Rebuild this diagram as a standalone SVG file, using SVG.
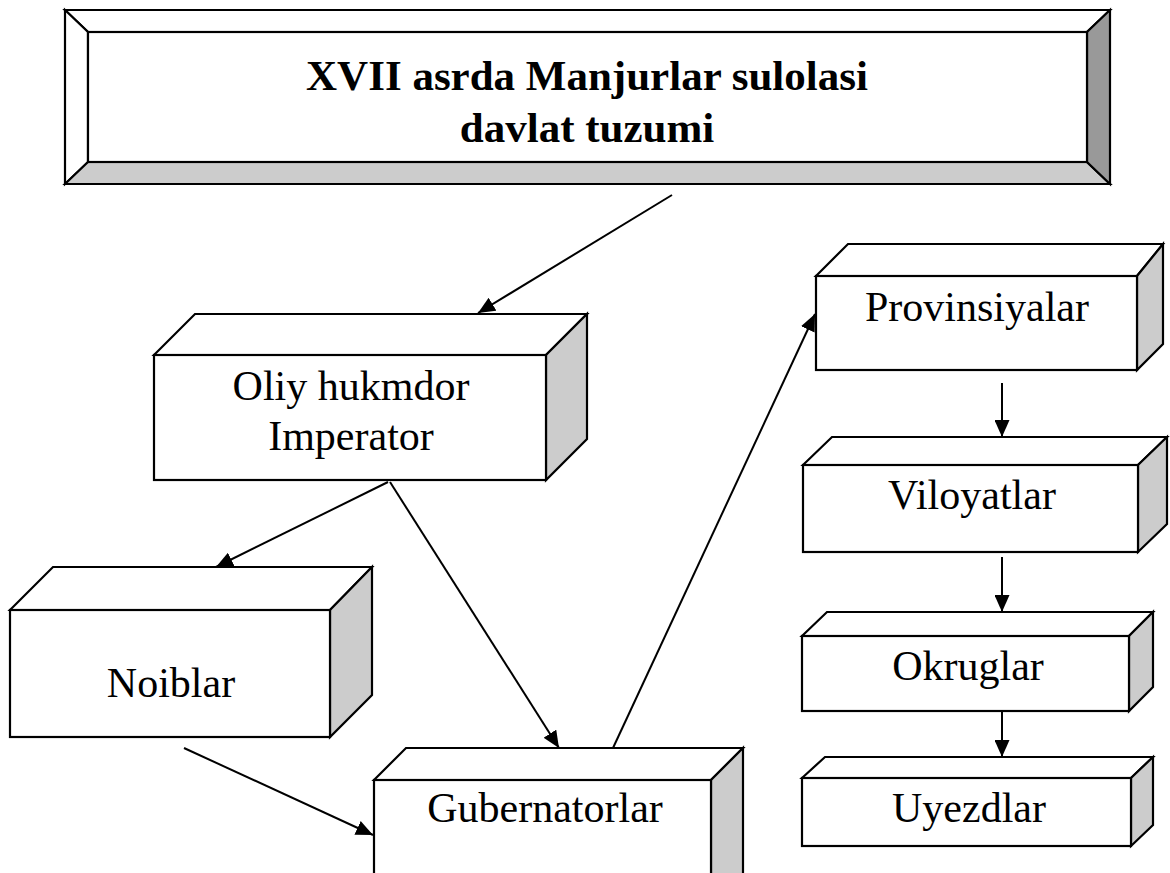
<svg xmlns="http://www.w3.org/2000/svg" width="1170" height="873" viewBox="0 0 1170 873">
<style>
.f{fill:#fff;stroke:#000;stroke-width:2.2;stroke-linejoin:miter}
.s{fill:#ccc;stroke:#000;stroke-width:2.2}
.d{fill:#999;stroke:#000;stroke-width:2.2}
.t{font-family:"Liberation Serif","Times New Roman",serif;font-size:42px;fill:#000;text-anchor:middle}
.b{font-weight:bold;font-size:43px}
.c{stroke:#000;stroke-width:2;fill:none}
</style>
<defs>
<marker id="ah" markerUnits="userSpaceOnUse" markerWidth="19" markerHeight="15" refX="17" refY="7.5" orient="auto">
<path d="M0,0 L17,7.5 L0,15 Z" fill="#000"/>
</marker>
</defs>
<rect width="1170" height="873" fill="#fff"/>
<g id="title">
<polygon class="f" points="65,10 1110,10 1087,32 88,32"/>
<polygon class="f" points="65,10 88,32 88,162 65,184"/>
<polygon class="s" points="65,184 88,162 1087,162 1110,184"/>
<polygon class="d" points="1110,10 1110,184 1087,162 1087,32"/>
<rect class="f" x="88" y="32" width="999" height="130"/>
<text class="t b" x="587" y="90">XVII asrda Manjurlar sulolasi</text>
<text class="t b" x="587" y="142">davlat tuzumi</text>
</g>
<g id="oliy">
<polygon class="f" points="154,355 195,314 587,314 546,355"/>
<polygon class="s" points="546,355 587,314 587,439 546,480"/>
<rect class="f" x="154" y="355" width="392" height="125"/>
<text class="t" x="351" y="400">Oliy hukmdor</text>
<text class="t" x="351" y="450">Imperator</text>
</g>
<g id="noiblar">
<polygon class="f" points="10,610 53,567 372,567 330,610"/>
<polygon class="s" points="330,610 372,567 372,695 330,737"/>
<rect class="f" x="10" y="610" width="320" height="127"/>
<text class="t" x="171" y="697">Noiblar</text>
</g>
<g id="gubernatorlar">
<polygon class="f" points="374,780 406,748 743,748 711,780"/>
<polygon class="s" points="711,780 743,748 743,900 711,932"/>
<rect class="f" x="374" y="780" width="337" height="150"/>
<text class="t" x="545" y="822">Gubernatorlar</text>
</g>
<g id="provinsiyalar">
<polygon class="f" points="816,276 848,244 1163,244 1137,276"/>
<polygon class="s" points="1137,276 1163,244 1163,344 1137,370"/>
<rect class="f" x="816" y="276" width="321" height="94"/>
<text class="t" x="977" y="321">Provinsiyalar</text>
</g>
<g id="viloyatlar">
<polygon class="f" points="803,465 832,437 1167,437 1138,465"/>
<polygon class="s" points="1138,465 1167,437 1167,524 1138,552"/>
<rect class="f" x="803" y="465" width="335" height="87"/>
<text class="t" x="972" y="509">Viloyatlar</text>
</g>
<g id="okruglar">
<polygon class="f" points="802,636 827,612 1153,612 1129,636"/>
<polygon class="s" points="1129,636 1153,612 1153,687 1129,711"/>
<rect class="f" x="802" y="636" width="327" height="75"/>
<text class="t" x="968" y="680">Okruglar</text>
</g>
<g id="uyezdlar">
<polygon class="f" points="802,778 825,757 1153,757 1131,778"/>
<polygon class="s" points="1131,778 1153,757 1153,825 1131,846"/>
<rect class="f" x="802" y="778" width="329" height="68"/>
<text class="t" x="969" y="822">Uyezdlar</text>
</g>
<g id="connectors">
<line class="c" x1="672" y1="195" x2="478" y2="313" marker-end="url(#ah)"/>
<line class="c" x1="388" y1="482" x2="216" y2="567" marker-end="url(#ah)"/>
<line class="c" x1="390" y1="482" x2="559" y2="748" marker-end="url(#ah)"/>
<line class="c" x1="184" y1="748" x2="373" y2="835" marker-end="url(#ah)"/>
<line class="c" x1="613" y1="748" x2="815" y2="314" marker-end="url(#ah)"/>
<line class="c" x1="1002" y1="383" x2="1002" y2="437" marker-end="url(#ah)"/>
<line class="c" x1="1002" y1="557" x2="1002" y2="612" marker-end="url(#ah)"/>
<line class="c" x1="1002" y1="712" x2="1002" y2="757" marker-end="url(#ah)"/>
</g>
</svg>
